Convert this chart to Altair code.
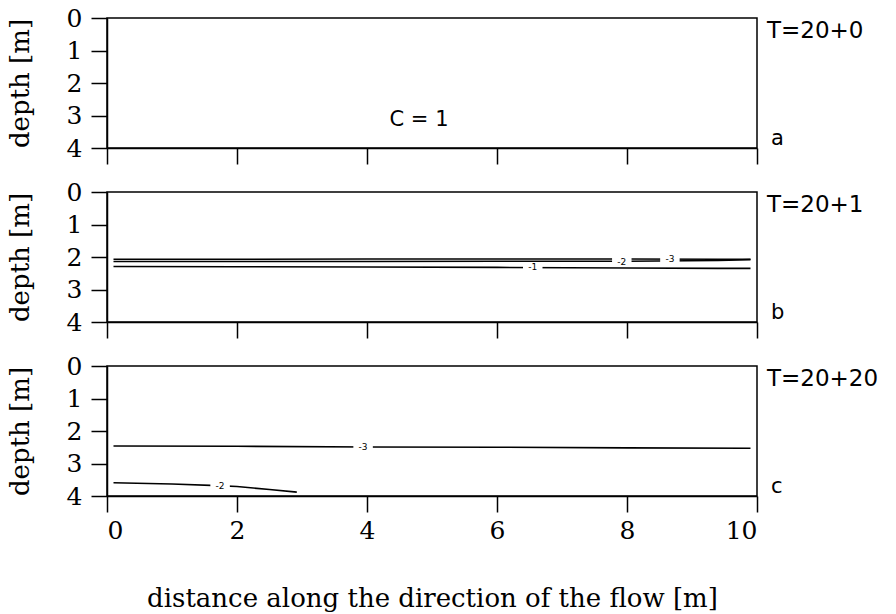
import altair as alt
import pandas as pd

# ---------------- data ----------------
X_TICKS = [0, 2, 4, 6, 8, 10]
Y_TICKS = [0, 1, 2, 3, 4]

panel_times = ["T=20+0", "T=20+1", "T=20+20"]
panel_letters = ["a", "b", "c"]

# panel a note
a_note_text = ["C = 1"]
a_note_x = [4.8]
a_note_y = [3.15]

# panel b contour lines (depth in m)
b_x = [0.1, 2.0, 4.0, 6.0, 8.0, 9.4, 9.9]
b_m3 = [2.07, 2.07, 2.06, 2.06, 2.06, 2.07, 2.07]
b_m2 = [2.14, 2.14, 2.14, 2.13, 2.13, 2.11, 2.08]
b_m1 = [2.29, 2.30, 2.31, 2.32, 2.34, 2.35, 2.35]
b_label_text = ["-1", "-2", "-3"]
b_label_x = [6.55, 7.92, 8.66]
b_label_y = [2.32, 2.14, 2.07]

# panel c contour lines
c_m3_x = [0.1, 2.0, 4.0, 6.0, 8.0, 9.9]
c_m3 = [2.46, 2.47, 2.49, 2.50, 2.52, 2.53]
c_m2_x = [0.1, 1.0, 1.7, 2.0, 2.5, 2.92]
c_m2 = [3.59, 3.63, 3.68, 3.71, 3.80, 3.88]
c_label_text = ["-3", "-2"]
c_label_x = [3.94, 1.74]
c_label_y = [2.49, 3.68]

X_TITLE = "distance along the direction of the flow [m]"
Y_TITLE = "depth [m]"

# ---------------- tables ----------------
def lines_table(series):
    rows = []
    for level, xs, ys in series:
        for i, (xv, yv) in enumerate(zip(xs, ys)):
            rows.append({"level": level, "x": xv, "depth": yv, "i": i})
    return pd.DataFrame(rows)

b_lines = lines_table([("-3", b_x, b_m3), ("-2", b_x, b_m2), ("-1", b_x, b_m1)])
b_labels = pd.DataFrame({"x": b_label_x, "depth": b_label_y, "t": b_label_text})
c_lines = lines_table([("-3", c_m3_x, c_m3), ("-2", c_m2_x, c_m2)])
c_labels = pd.DataFrame({"x": c_label_x, "depth": c_label_y, "t": c_label_text})
a_notes = pd.DataFrame({"x": a_note_x, "depth": a_note_y, "t": a_note_text})

BOX = "M-1,-0.5L1,-0.5L1,0.5L-1,0.5Z"
ANNO_FONT = "DejaVu Sans"


def panel(idx, lines_df, labels_df, notes_df, last):
    xaxis = alt.Axis(values=X_TICKS, labels=last, format="d", labelOverlap=False,
                     title=X_TITLE if last else None)
    yaxis = alt.Axis(values=Y_TICKS, format="d", labelOverlap=False, title=Y_TITLE)
    xscale = alt.Scale(domain=[0, 10], nice=False, zero=False)
    yscale = alt.Scale(domain=[0, 4], reverse=True, nice=False, zero=False)
    x = alt.X("x:Q", scale=xscale, axis=xaxis)
    y = alt.Y("depth:Q", scale=yscale, axis=yaxis)
    layers = []
    if lines_df is not None:
        layers.append(
            alt.Chart(lines_df).mark_line(color="black", strokeWidth=1.6).encode(
                x=x, y=y, detail="level:N", order="i:Q")
        )
    if labels_df is not None:
        layers.append(
            alt.Chart(labels_df).mark_point(shape=BOX, size=380, filled=True, color="white",
                                             opacity=1, strokeWidth=0).encode(x=x, y=y)
        )
        layers.append(
            alt.Chart(labels_df).mark_text(font="DejaVu Sans", fontSize=9, color="black",
                                           baseline="middle", align="center").encode(x=x, y=y, text="t:N")
        )
    if notes_df is not None:
        layers.append(
            alt.Chart(notes_df).mark_text(font=ANNO_FONT, fontSize=21, color="black",
                                          baseline="middle", align="center").encode(x=x, y=y, text="t:N")
        )
    tdf = pd.DataFrame({"t": [panel_times[idx]]})
    ldf = pd.DataFrame({"t": [panel_letters[idx]]})
    layers.append(
        alt.Chart(tdf).mark_text(font=ANNO_FONT, fontSize=23, color="black", align="left",
                                 baseline="middle", dx=10).encode(
            x=alt.XDatum(10, scale=xscale, axis=xaxis),
            y=alt.YDatum(0.4, scale=yscale, axis=yaxis),
            text="t:N")
    )
    layers.append(
        alt.Chart(ldf).mark_text(font=ANNO_FONT, fontSize=21, color="black", align="left",
                                 baseline="middle", dx=14).encode(
            x=alt.XDatum(10, scale=xscale, axis=xaxis),
            y=alt.YDatum(3.72, scale=yscale, axis=yaxis),
            text="t:N")
    )
    return alt.layer(*layers).properties(width=650, height=130)


pa = panel(0, None, None, a_notes, False)
pb = panel(1, b_lines, b_labels, None, False)
pc = panel(2, c_lines, c_labels, None, True)

chart = alt.vconcat(pa, pb, pc, spacing=44, bounds="flush").properties(
    padding={"left": 6, "top": 5, "right": 5, "bottom": 5}
).configure_axis(
    domainColor="black", domainWidth=1.5, tickColor="black", tickWidth=1.5, tickSize=16,
    labelFont="DejaVu Serif", labelFontSize=25, labelColor="black",
    titleFont="DejaVu Serif", titleFontSize=26, titleFontWeight="normal", titleColor="black",
    grid=False
).configure_axisY(
    labelPadding=9, titlePadding=33
).configure_axisX(
    labelPadding=6, titlePadding=42
).configure_view(
    stroke="black", strokeWidth=1.5
)

chart.save("out.html", embed_options={"renderer": "svg", "actions": False})
